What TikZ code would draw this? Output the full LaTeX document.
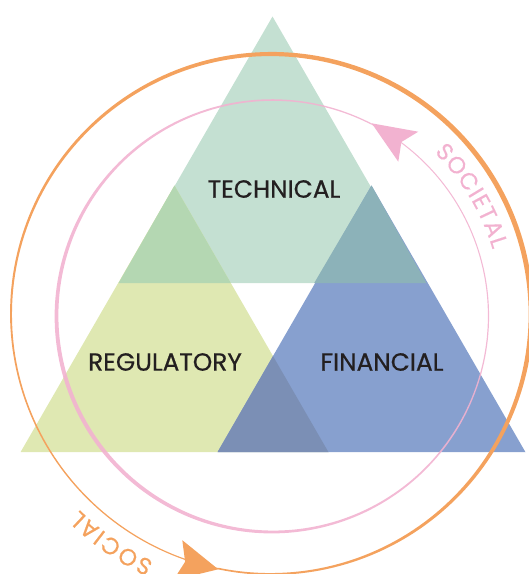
\documentclass[tikz,border=0pt]{standalone}
\usepackage{fontspec}
\setmainfont{Poppins}
\newfontfamily\lblfont[FakeBold=0.6]{Poppins}
\newfontfamily\arcfont[FakeBold=0.3]{Poppins}
\usetikzlibrary{decorations.text}
\definecolor{techC}{RGB}{196,224,210}
\definecolor{regC}{RGB}{223,232,178}
\definecolor{finC}{RGB}{135,160,207}
\definecolor{trC}{RGB}{180,215,178}
\definecolor{tfC}{RGB}{140,178,185}
\definecolor{rfC}{RGB}{123,143,181}
\definecolor{orangeC}{RGB}{244,162,94}
\definecolor{pinkC}{RGB}{242,178,208}
\definecolor{textC}{RGB}{35,31,32}
\begin{document}
\begin{tikzpicture}[x=1pt,y=-1pt,
  lbl/.style={font=\lblfont\fontsize{24.8}{24.8}\selectfont, text=textC, inner sep=0pt, anchor=center},
  declare function={
    ou(\t)=(101.7-\t)/360-0.36;
    ow(\t)=1+4*exp(-ou(\t)*ou(\t)/ifthenelse(ou(\t)<0,0.07,0.12));
    pu(\t)=(-62.8-\t)/360-0.4;
    pw(\t)=1+3*exp(-pu(\t)*pu(\t)/0.0625);
  }]
\useasboundingbox (0,0) rectangle (529,574);
\clip (0,0) rectangle (529,574);
% triangle corners
\coordinate (Ta) at (272.5,16.5);
\coordinate (Tl) at (118.5,283.2);
\coordinate (Tr) at (426.5,283.2);
\coordinate (Ra) at (174.5,185.5);
\coordinate (Rl) at (20.5,452.2);
\coordinate (Rr) at (328.5,452.2);
\coordinate (Fa) at (371.5,185.5);
\coordinate (Fl) at (217.5,452.2);
\coordinate (Fr) at (525.5,452.2);
\coordinate (TRr) at (230.9,283.2);
\coordinate (TFl) at (314.1,283.2);
\coordinate (RFa) at (273,356.1);
% triangles
\fill[techC] (Ta) -- (Tl) -- (Tr) -- cycle;
\fill[regC] (Ra) -- (Rl) -- (Rr) -- cycle;
\fill[finC] (Fa) -- (Fl) -- (Fr) -- cycle;
\fill[trC] (Ra) -- (Tl) -- (TRr) -- cycle;
\fill[tfC] (Fa) -- (TFl) -- (Tr) -- cycle;
\fill[rfC] (RFa) -- (Fl) -- (Rr) -- cycle;
% pink loop (tapered)
\fill[pinkC, opacity=0.9] plot[domain=-62.8:-422.8, samples=241, variable=\t]
   ({272.5+(216+0.5*pw(\t))*cos(\t)},{316+(216+0.5*pw(\t))*sin(\t)})
   -- plot[domain=-422.8:-62.8, samples=241, variable=\t]
   ({272.5+(216-0.5*pw(\t))*cos(\t)},{316+(216-0.5*pw(\t))*sin(\t)}) -- cycle;
% orange loop (tapered)
\fill[orangeC] plot[domain=101.7:-258.3, samples=241, variable=\t]
   ({271+(260+0.5*ow(\t))*cos(\t)},{314+(260+0.5*ow(\t))*sin(\t)})
   -- plot[domain=-258.3:101.7, samples=241, variable=\t]
   ({271+(260-0.5*ow(\t))*cos(\t)},{314+(260-0.5*ow(\t))*sin(\t)}) -- cycle;
% arrowheads
\coordinate (pTip) at (371.7,123.3);
\coordinate (pC1) at (418.3,131.7);
\coordinate (pN) at (401.4,142.0);
\coordinate (pC2) at (398.3,161.7);
\fill[pinkC] (pTip) -- (pC1) -- (pN) -- (pC2) -- cycle;
\coordinate (oTip) at (218.3,569.3);
\coordinate (oC1) at (182.3,540.2);
\coordinate (oN) at (185.1,561.8);
\coordinate (oC2) at (173.3,580.2);
\fill[orangeC] (oTip) -- (oC1) -- (oN) -- (oC2) -- cycle;
% labels
\node[lbl] (tech) at (274,189) {TECHNICAL};
\node[lbl] (reg) at (165,362) {REGULATORY};
\node[lbl] (fin) at (382,362) {FINANCIAL};
% curved labels
\path[decorate, decoration={text along path,
    text={|\arcfont\fontsize{23.5}{23.5}\selectfont\color{pinkC}|SOCIETAL},
    text align=fit to path}]
  ([shift={(272.5,316)}]-45.3:230) arc[start angle=-45.3, end angle=-16.8, radius=230];
\path[decorate, decoration={text along path,
    text={|\arcfont\fontsize{23.5}{23.5}\selectfont\color{orangeC}|SOCIAL},
    text align=fit to path}]
  ([shift={(271,314)}]115.3:274) arc[start angle=115.3, end angle=134.3, radius=274];
\end{tikzpicture}
\end{document}
